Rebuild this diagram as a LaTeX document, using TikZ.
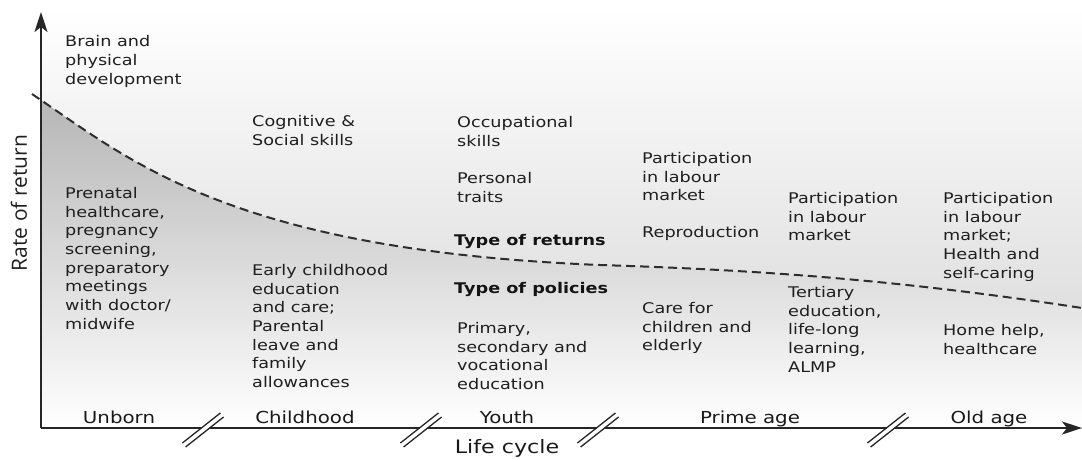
\documentclass[tikz,border=0pt]{standalone}
\usepackage{fontspec}
\setmainfont{DejaVu Sans}[FakeStretch=1.2]
\newfontfamily\axisfont{Open Sans}
\usetikzlibrary{arrows.meta}
\tikzset{
	txt/.style={anchor=north west, inner sep=0pt, align=left, text=black!88, font=\fontsize{14.7}{18.7}\selectfont},
	head/.style={txt, text=black!92, font=\fontsize{14.7}{18.7}\selectfont\bfseries},
	stage/.style={anchor=base, inner sep=0pt, text=black!90, font=\fontsize{16.5}{20}\selectfont},
	axisline/.style={line width=2pt, draw=black!85, -{Stealth[length=20pt,width=13pt,inset=5pt]}},
	returncurve/.style={line width=2pt, draw=black!82, dash pattern=on 9pt off 5pt},
}
\def\lifebreak(#1:#2){
	\draw[white, line width=4pt] ({#1-17},{#2+13.5}) -- ({#1+17},{#2-13.5});
	\draw[line width=1.3pt, black!85] ({#1-17.4},{#2+17}) -- ({#1+20.6},{#2-13});
	\draw[line width=1.3pt, black!85] ({#1-20.6},{#2+13}) -- ({#1+17.4},{#2-17});
}
\def\returnpath{(32,94) .. controls (130,160) and (230,250) .. (600,265) .. controls (760,270) and (900,280) .. (1082,308)}

\begin{document}
\begin{tikzpicture}[x=1pt, y=-1pt]
	%%%%% START %%%%%
	\useasboundingbox (0,0) rectangle (1082,459);
	
	\coordinate (origin) at (41,428);
	\coordinate (ytop) at (41,12);
	\coordinate (xend) at (1082,428);
	
	% background above the curve
	\shade[top color=white, bottom color=black!17] (41,8) rectangle (1082,428);
	
	% area below the curve
	\begin{scope}
		\clip (41,0) rectangle (1082,428);
		\shade[top color=black!29, middle color=black!21, bottom color=white]
			\returnpath -- (1082,428) -- (32,428) -- cycle;
	\end{scope}
	
	\draw[returncurve] \returnpath;
	
	% axes
	\draw[axisline] (origin) -- (ytop);
	\draw[axisline] (origin) -- (xend);
	
	\lifebreak(203:430)
	\lifebreak(421:430)
	\lifebreak(598:430)
	\lifebreak(888:430)
	
	\node[rotate=90, inner sep=0pt, text=black!88, font=\axisfont\fontsize{21}{24}\selectfont] (rate) at (19,203) {Rate of return};
	\node[stage, font=\fontsize{18.5}{22}\selectfont] (cycle) at (507,453) {Life cycle};
	
	% stages
	\node[stage] (unborn) at (119,423) {Unborn};
	\node[stage] (childhood) at (305,423) {Childhood};
	\node[stage] (youth) at (507,423) {Youth};
	\node[stage] (prime) at (750,423) {Prime age};
	\node[stage] (old) at (989,423) {Old age};
	
	% returns
	\node[txt] (brain) at (65,35.5) {Brain and\\physical\\development};
	\node[txt] (cognitive) at (252,115) {Cognitive \&\\Social skills};
	\node[txt] (occupational) at (457,116) {Occupational\\skills};
	\node[txt] (personal) at (457,172) {Personal\\traits};
	\node[txt] (labourA) at (642,152) {Participation\\in labour\\market};
	\node[txt] (reproduction) at (642,226) {Reproduction};
	\node[txt] (labourB) at (788,192) {Participation\\in labour\\market};
	\node[txt] (labourC) at (943,192) {Participation\\in labour\\market;\\Health and\\self-caring};
	
	\node[head] (returns) at (454,234) {Type of returns};
	\node[head] (policies) at (454,282) {Type of policies};
	
	% policies
	\node[txt] (prenatal) at (65,187) {Prenatal\\healthcare,\\pregnancy\\screening,\\preparatory\\meetings\\with doctor/\\midwife};
	\node[txt] (early) at (252,264) {Early childhood\\education\\and care;\\Parental\\leave and\\family\\allowances};
	\node[txt] (primary) at (457,322) {Primary,\\secondary and\\vocational\\education};
	\node[txt] (care) at (642,302) {Care for\\children and\\elderly};
	\node[txt] (tertiary) at (788,286) {Tertiary\\education,\\life-long\\learning,\\ALMP};
	\node[txt] (home) at (943,324) {Home help,\\healthcare};
	%%%%% END %%%%%
\end{tikzpicture}
\end{document}
